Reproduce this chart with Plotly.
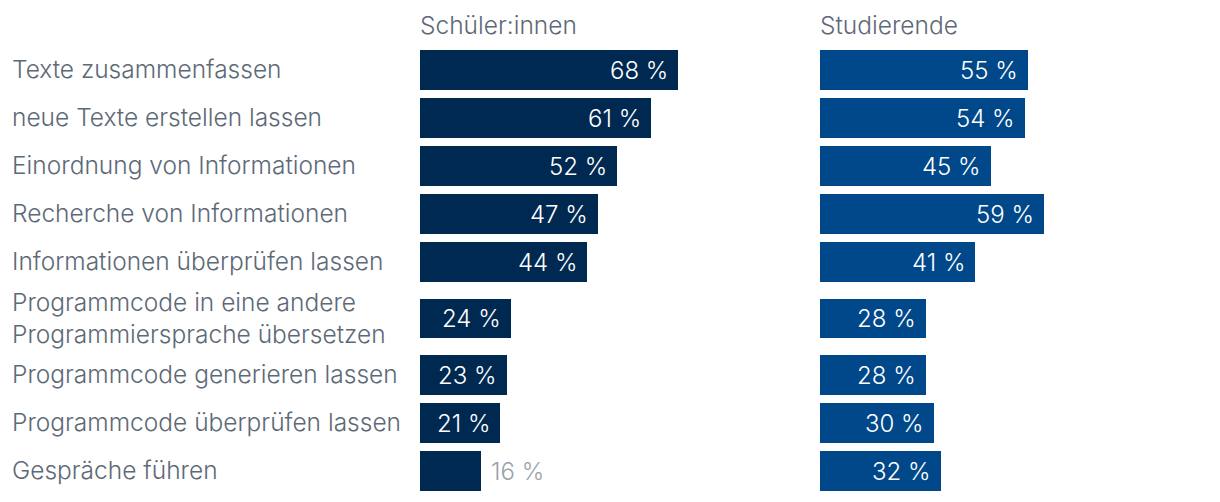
import plotly.graph_objects as go

categories = [
    "Texte zusammenfassen",
    "neue Texte erstellen lassen",
    "Einordnung von Informationen",
    "Recherche von Informationen",
    "Informationen überprüfen lassen",
    "Programmcode in eine andere<br>Programmiersprache übersetzen",
    "Programmcode generieren lassen",
    "Programmcode überprüfen lassen",
    "Gespräche führen",
]
schueler = [68, 61, 52, 47, 44, 24, 23, 21, 16]
studierende = [55, 54, 45, 59, 41, 28, 28, 30, 32]
panel_titles = ["Schüler:innen", "Studierende"]

FONT = "Inter"
WEIGHT = 260
LABEL_COLOR = "#5d6977"
COLORS = ["#002952", "#00488a"]
OFF = 8  # page body margin
W, H = 1220 - OFF, 502 - OFF
FS = 24
FS_LABEL = 24.5

# row positions: multi-line labels get extra room
pos = []
cur = None
prev_h = None
for c in categories:
    lines = c.count("<br>") + 1
    h = 1 + 0.354 * (lines - 1)
    if cur is None:
        cur = 0.0
    else:
        cur = cur + prev_h / 2 + h / 2
    pos.append(cur)
    prev_h = h
y_end = pos[-1] + prev_h / 2

fig = go.Figure()
series = [schueler, studierende]
axes = ["x", "x2"]
annotations = []
for k, (vals, xr) in enumerate(zip(series, axes)):
    fig.add_trace(go.Bar(
        x=vals, y=pos, orientation="h", width=0.833,
        marker=dict(color=COLORS[k], line=dict(width=0)),
        xaxis=xr, yaxis="y", hoverinfo="skip", showlegend=False,
    ))
    for v, p in zip(vals, pos):
        inside = v >= 20
        annotations.append(dict(
            x=v, y=p, xref=xr, yref="y", text=f"{v} %",
            showarrow=False,
            xanchor="right" if inside else "left",
            xshift=-8 if inside else 8,
            font=dict(family=FONT, size=FS, weight=WEIGHT,
                      color="#ffffff" if inside else "#9aa2ad"),
        ))

for c, p in zip(categories, pos):
    annotations.append(dict(
        x=(12 - OFF - 2) / W, y=p, xref="paper", yref="y", text=c,
        showarrow=False, xanchor="left", yanchor="middle", align="left",
        yshift=1,
        font=dict(family=FONT, size=FS_LABEL, weight=WEIGHT, color=LABEL_COLOR),
    ))

x_left = [(420 - OFF) / W, (799 - OFF) / W]
x_right = [(820 - OFF) / W, (1199 - OFF) / W]
top = 46 - OFF
for t, dom in zip(panel_titles, [x_left, x_right]):
    annotations.append(dict(
        x=dom[0] - 2 / W, y=1 + (top - (25 - OFF)) / 449, xref="paper", yref="paper",
        text=t, showarrow=False, xanchor="left", yanchor="middle",
        font=dict(family=FONT, size=FS_LABEL, weight=WEIGHT, color=LABEL_COLOR),
    ))

fig.update_layout(
    width=W, height=H,
    margin=dict(l=0, r=0, t=top, b=H - top - 449),
    paper_bgcolor="white", plot_bgcolor="white",
    bargap=0,
    xaxis=dict(domain=x_left, range=[0, 100], visible=False, fixedrange=True),
    xaxis2=dict(domain=x_right, range=[0, 100], visible=False, fixedrange=True),
    yaxis=dict(range=[y_end, -0.5], visible=False, fixedrange=True),
    annotations=annotations,
)

fig.write_html("out.html", config={"displayModeBar": False})
